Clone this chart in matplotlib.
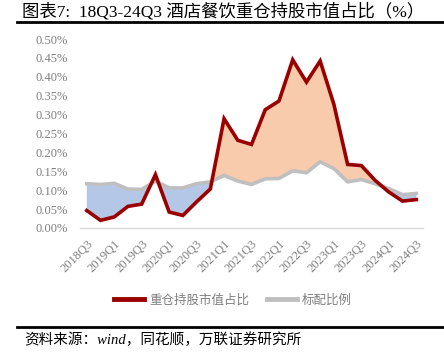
import numpy as np
import matplotlib.pyplot as plt
from matplotlib.lines import Line2D

plt.rcParams['font.family'] = ['Liberation Serif', 'Noto Sans CJK SC', 'DejaVu Sans']

quarters = ['2018Q3', '2018Q4', '2019Q1', '2019Q2', '2019Q3', '2019Q4', '2020Q1', '2020Q2',
            '2020Q3', '2020Q4', '2021Q1', '2021Q2', '2021Q3', '2021Q4', '2022Q1', '2022Q2',
            '2022Q3', '2022Q4', '2023Q1', '2023Q2', '2023Q3', '2023Q4', '2024Q1', '2024Q2',
            '2024Q3']
heavy = [0.046, 0.020, 0.029, 0.057, 0.063, 0.141, 0.042, 0.033, 0.069, 0.103,
         0.289, 0.232, 0.221, 0.313, 0.336, 0.445, 0.386, 0.442, 0.327, 0.168,
         0.165, 0.126, 0.095, 0.071, 0.075]
bench = [0.117, 0.115, 0.118, 0.103, 0.102, 0.124, 0.106, 0.106, 0.117, 0.122,
         0.139, 0.124, 0.115, 0.130, 0.131, 0.151, 0.146, 0.175, 0.157, 0.122,
         0.128, 0.117, 0.104, 0.088, 0.091]
yticks = [0.0, 0.05, 0.10, 0.15, 0.20, 0.25, 0.30, 0.35, 0.40, 0.45, 0.50]

red = '#990000'
grey = '#BFBFBF'

fig = plt.figure(figsize=(4.44, 3.55), dpi=100)
ax = fig.add_axes([0.180, 0.358, 0.773, 0.532])

x = np.arange(len(quarters))
h = np.array(heavy)
b = np.array(bench)
ax.fill_between(x, h, b, where=h >= b, interpolate=True, color='#F8CBAD', lw=0)
ax.fill_between(x, h, b, where=h <= b, interpolate=True, color='#B4C7E7', lw=0)
ax.plot(x, bench, color=grey, lw=2.6, solid_joinstyle='miter', zorder=3)
ax.plot(x, heavy, color=red, lw=2.6, solid_joinstyle='miter', zorder=4)

ax.set_xlim(-0.5, len(quarters) - 0.5)
ax.set_ylim(0, 0.5)
ax.set_yticks(yticks)
ax.set_yticklabels(['%.2f%%' % v for v in yticks], color='#7F7F7F', fontsize=9)
ax.set_xticks(x[::2])
ax.set_xticklabels(quarters[::2], rotation=45, ha='right', rotation_mode='anchor',
                   color='#7F7F7F', fontsize=9)
ax.tick_params(axis='y', length=0, pad=9)
ax.tick_params(axis='x', length=0, pad=7)
for s in ['top', 'right', 'left']:
    ax.spines[s].set_visible(False)
ax.spines['bottom'].set_color('#D9D9D9')
ax.spines['bottom'].set_linewidth(1)

handles = [Line2D([], [], color=red, lw=3.5), Line2D([], [], color=grey, lw=3.5)]
fig.legend(handles, ['重仓持股市值占比', '标配比例'], loc='center', bbox_to_anchor=(0.525, 0.155),
           ncol=2, frameon=False, handlelength=2.4, handletextpad=0.4, columnspacing=1.4,
           labelcolor='#7F7F7F', prop={'family': ['Noto Sans CJK SC'], 'size': 9})

fig.text(0.05, 0.966, '图表7:  18Q3-24Q3 酒店餐饮重仓持股市值占比（%）', fontsize=12.5,
         va='center', ha='left')
fig.add_artist(Line2D([0.038, 1.0], [0.937, 0.937], color='black', lw=2))
fig.add_artist(Line2D([0.038, 1.0], [0.079, 0.079], color='black', lw=2))
fig.text(0.055, 0.042, '资料来源：wind，同花顺，万联证券研究所', fontsize=10.5, style='italic',
         va='center', ha='left')

fig.savefig('out.png', dpi=100)
